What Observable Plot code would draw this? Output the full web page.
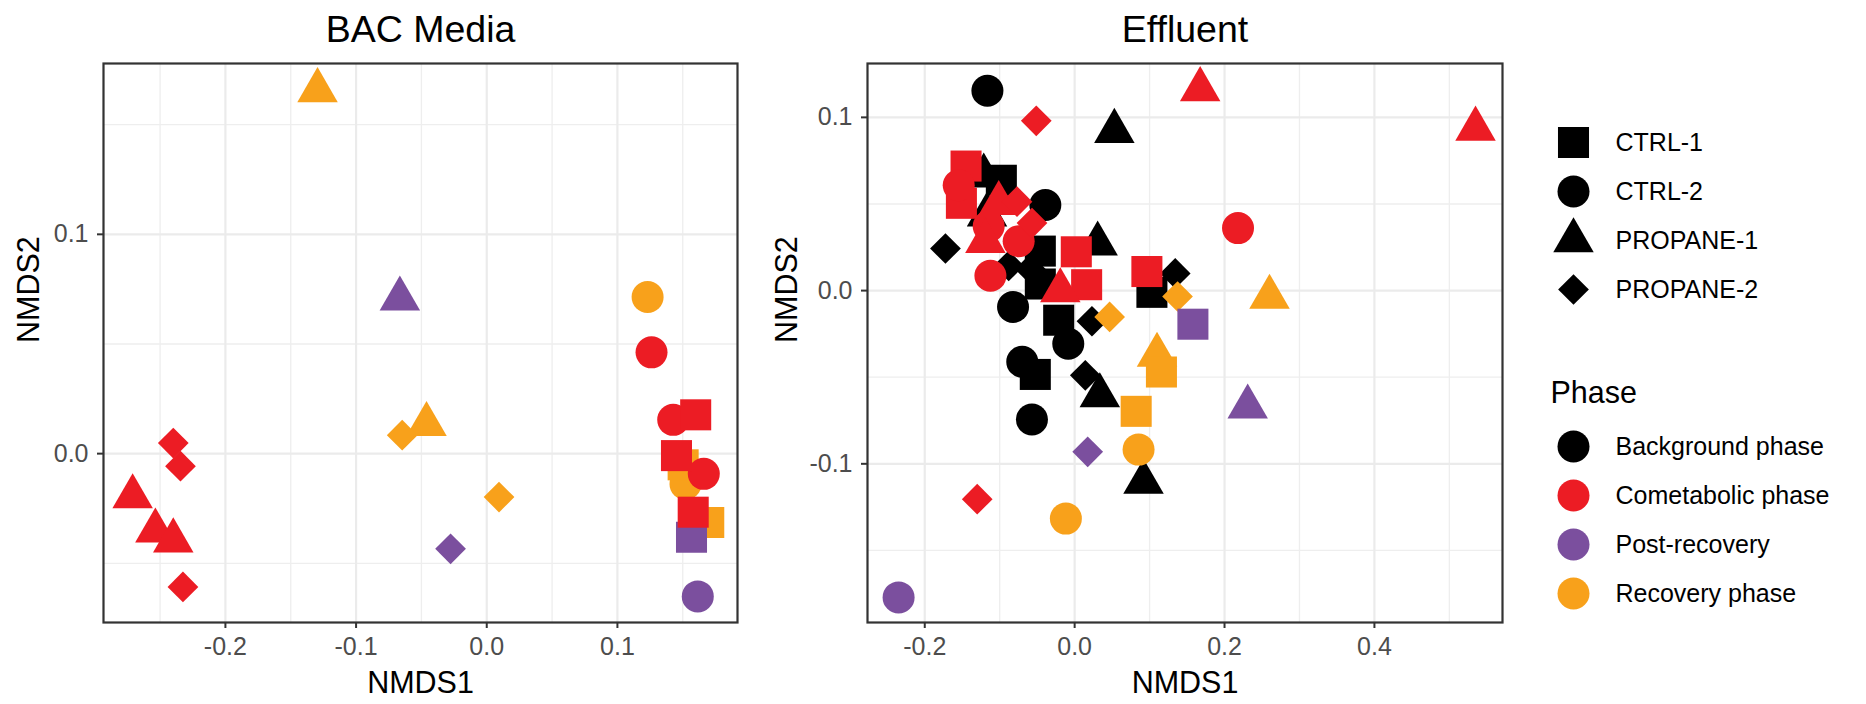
<!DOCTYPE html>
<html>
<head>
<meta charset="utf-8">
<script src="https://cdn.jsdelivr.net/npm/d3@7"></script>
<script src="https://cdn.jsdelivr.net/npm/@observablehq/plot@0.6"></script>
<style>
  html, body { margin: 0; padding: 0; background: #ffffff; }
  #wrap { position: relative; width: 1866px; height: 704px; overflow: hidden; font-family: "Liberation Sans", Arial, sans-serif; }
  .abs { position: absolute; }
</style>
</head>
<body>
<div id="wrap">
  <div id="p1" class="abs" style="left:0px;top:0px"></div>
  <div id="p2" class="abs" style="left:760px;top:0px"></div>
  <div id="lg1" class="abs" style="left:1540px;top:116px"></div>
  <div id="lg2" class="abs" style="left:1540px;top:360px"></div>
</div>
<script>
// ---------- categories ----------
const reactors = ["CTRL-1", "CTRL-2", "PROPANE-1", "PROPANE-2"];
const phases = ["Background phase", "Cometabolic phase", "Post-recovery", "Recovery phase"];
const phaseColors = ["#000000", "#ec1c24", "#7b4f9e", "#f8a11b"];
const panelTitles = ["BAC Media", "Effluent"];

// ---------- BAC Media ----------
const bacNMDS1 = [-0.1295, -0.0461, -0.0647, 0.0094, 0.1231, 0.1521, 0.1503, 0.1699,
                  -0.0665, -0.0277, 0.1567, 0.1615,
                  0.1261, 0.1427, 0.1661, 0.1599, 0.1452, 0.1580, -0.2710, -0.2536, -0.2399, -0.2399, -0.2344, -0.2325];
const bacNMDS2 = [0.1656, 0.0134, 0.0084, -0.0198, 0.0714, -0.0138, -0.0051, -0.0314,
                  0.0706, -0.0434, -0.0381, -0.0651,
                  0.0462, 0.0154, -0.0092, 0.0177, -0.0009, -0.0267, -0.0196, -0.0352, -0.0397, 0.0048, -0.0057, -0.0608];
const bacReactor = ["PROPANE-1", "PROPANE-1", "PROPANE-2", "PROPANE-2", "CTRL-2", "CTRL-2", "CTRL-1", "CTRL-1",
                    "PROPANE-1", "PROPANE-2", "CTRL-1", "CTRL-2",
                    "CTRL-2", "CTRL-2", "CTRL-2", "CTRL-1", "CTRL-1", "CTRL-1", "PROPANE-1", "PROPANE-1", "PROPANE-1", "PROPANE-2", "PROPANE-2", "PROPANE-2"];
const bacPhase = ["Recovery phase", "Recovery phase", "Recovery phase", "Recovery phase", "Recovery phase", "Recovery phase", "Recovery phase", "Recovery phase",
                  "Post-recovery", "Post-recovery", "Post-recovery", "Post-recovery",
                  "Cometabolic phase", "Cometabolic phase", "Cometabolic phase", "Cometabolic phase", "Cometabolic phase", "Cometabolic phase",
                  "Cometabolic phase", "Cometabolic phase", "Cometabolic phase", "Cometabolic phase", "Cometabolic phase", "Cometabolic phase"];

// ---------- Effluent ----------
const effNMDS1 = [
  -0.1164, -0.0391, -0.0822, -0.0085, -0.0699, -0.0570,
  -0.0978, -0.0458, -0.0458, 0.1031, -0.0213, -0.0525,
  0.0530, -0.1213, -0.1169, 0.0307, 0.0336, 0.0919,
  -0.1724, -0.0880, -0.0591, 0.1342, 0.0231, 0.0142,
  0.2600, 0.1099, 0.1158, 0.0821, 0.0853, -0.0117, 0.1373, 0.0467,
  0.1578, 0.2309, 0.0174, -0.2349,
  -0.1449, -0.1511, 0.0022, 0.0160, 0.0964,
  -0.1547, -0.1147, -0.0747, -0.1124, 0.2180,
  0.1675, 0.5349, -0.1013, -0.1191, -0.0191,
  -0.0512, -0.0769, -0.0569, -0.1300];
const effNMDS2 = [
  0.1154, 0.0494, -0.0095, -0.0307, -0.0411, -0.0744,
  0.0637, 0.0228, 0.0038, -0.0010, -0.0171, -0.0484,
  0.0920, 0.0663, 0.0437, 0.0270, -0.0606, -0.1105,
  0.0243, 0.0143, 0.0124, 0.0099, -0.0177, -0.0489,
  -0.0037, -0.0372, -0.0470, -0.0697, -0.0918, -0.1316, -0.0034, -0.0152,
  -0.0194, -0.0671, -0.0931, -0.1771,
  0.0719, 0.0504, 0.0224, 0.0034, 0.0110,
  0.0608, 0.0371, 0.0285, 0.0086, 0.0361,
  0.1161, 0.0933, 0.0504, 0.0285, 0.0000,
  0.0980, 0.0513, 0.0390, -0.1204];
const effReactor = [
  "CTRL-2", "CTRL-2", "CTRL-2", "CTRL-2", "CTRL-2", "CTRL-2",
  "CTRL-1", "CTRL-1", "CTRL-1", "CTRL-1", "CTRL-1", "CTRL-1",
  "PROPANE-1", "PROPANE-1", "PROPANE-1", "PROPANE-1", "PROPANE-1", "PROPANE-1",
  "PROPANE-2", "PROPANE-2", "PROPANE-2", "PROPANE-2", "PROPANE-2", "PROPANE-2",
  "PROPANE-1", "PROPANE-1", "CTRL-1", "CTRL-1", "CTRL-2", "CTRL-2", "PROPANE-2", "PROPANE-2",
  "CTRL-1", "PROPANE-1", "PROPANE-2", "CTRL-2",
  "CTRL-1", "CTRL-1", "CTRL-1", "CTRL-1", "CTRL-1",
  "CTRL-2", "CTRL-2", "CTRL-2", "CTRL-2", "CTRL-2",
  "PROPANE-1", "PROPANE-1", "PROPANE-1", "PROPANE-1", "PROPANE-1",
  "PROPANE-2", "PROPANE-2", "PROPANE-2", "PROPANE-2"];
const effPhase = [
  ...Array(24).fill("Background phase"),
  ...Array(8).fill("Recovery phase"),
  ...Array(4).fill("Post-recovery"),
  ...Array(19).fill("Cometabolic phase")];

// ---------- axis ticks ----------
const bacXMajor = [-0.2, -0.1, 0.0, 0.1];
const bacXMinor = [-0.25, -0.15, -0.05, 0.05, 0.15];
const bacYMajor = [0.0, 0.1];
const bacYMinor = [-0.05, 0.05, 0.15];
const effXMajor = [-0.2, 0.0, 0.2, 0.4];
const effXMinor = [-0.1, 0.1, 0.3, 0.5];
const effYMajor = [-0.1, 0.0, 0.1];
const effYMinor = [-0.15, -0.05, 0.05];

// ---------- ggplot-like symbols ----------
const rOf = (size) => Math.sqrt(size / Math.PI);
const symSquare = {draw(ctx, size) { const r = rOf(size) * 0.97; ctx.moveTo(-r, -r); ctx.lineTo(r, -r); ctx.lineTo(r, r); ctx.lineTo(-r, r); ctx.closePath(); }};
const symCircle = {draw(ctx, size) { const r = rOf(size); ctx.moveTo(r, 0); ctx.arc(0, 0, r, 0, 2 * Math.PI); ctx.closePath(); }};
const symTriangle = {draw(ctx, size) { const r = rOf(size); const hw = r * 1.265, top = r * 1.46, bot = r * 0.73; ctx.moveTo(0, -top); ctx.lineTo(hw, bot); ctx.lineTo(-hw, bot); ctx.closePath(); }};
const symDiamond = {draw(ctx, size) { const r = rOf(size) * 0.96; ctx.moveTo(0, -r); ctx.lineTo(r, 0); ctx.lineTo(0, r); ctx.lineTo(-r, 0); ctx.closePath(); }};
const reactorSymbols = [symSquare, symCircle, symTriangle, symDiamond];

const FONT = "'Liberation Sans', Arial, sans-serif";
const fmt = (d) => d.toFixed(1);

function table(nx, ny, reactor, phase) {
  return nx.map((x, i) => ({NMDS1: x, NMDS2: ny[i], Reactor: reactor[i], Phase: phase[i]}));
}

function panel(opts) {
  const {data, title, xDomain, yDomain, xMajor, xMinor, yMajor, yMinor, marginLeft, marginRight, ylabDx} = opts;
  return Plot.plot({
    width: 760, height: 704,
    marginLeft, marginRight, marginTop: 63, marginBottom: 82,
    style: {fontFamily: FONT, background: "transparent", overflow: "visible", color: "#333333"},
    x: {domain: xDomain, axis: null},
    y: {domain: yDomain, axis: null},
    color: {domain: phases, range: phaseColors},
    symbol: {domain: reactors, range: reactorSymbols},
    marks: [
      Plot.ruleX(xMinor, {stroke: "#eeeeee", strokeWidth: 1.3}),
      Plot.ruleY(yMinor, {stroke: "#eeeeee", strokeWidth: 1.3}),
      Plot.ruleX(xMajor, {stroke: "#ebebeb", strokeWidth: 2.2}),
      Plot.ruleY(yMajor, {stroke: "#ebebeb", strokeWidth: 2.2}),
      Plot.dot(data, {x: "NMDS1", y: "NMDS2", fill: "Phase", symbol: "Reactor", r: 16}),
      Plot.frame({stroke: "#333333", strokeWidth: 2.2}),
      Plot.axisX(xMajor, {tickSize: 6, tickPadding: 9, fontSize: 25, tickFormat: fmt, label: null, stroke: "#333333", fill: "#4d4d4d", strokeWidth: 2}),
      Plot.axisY(yMajor, {tickSize: 6, tickPadding: 9, fontSize: 25, tickFormat: fmt, label: null, stroke: "#333333", fill: "#4d4d4d", strokeWidth: 2}),
      Plot.text([title], {frameAnchor: "top", dy: -34, fontSize: 37.5, fill: "#000000", lineAnchor: "middle"}),
      Plot.text(["NMDS1"], {frameAnchor: "bottom", dy: 61, fontSize: 30.5, fill: "#000000", lineAnchor: "middle"}),
      Plot.text(["NMDS2"], {frameAnchor: "left", dx: ylabDx, rotate: -90, fontSize: 30.5, fill: "#000000", lineAnchor: "middle"})
    ]
  });
}

document.getElementById("p1").append(panel({
  data: table(bacNMDS1, bacNMDS2, bacReactor, bacPhase),
  title: panelTitles[0],
  xDomain: [-0.2933, 0.1919], yDomain: [-0.0770, 0.1779],
  xMajor: bacXMajor, xMinor: bacXMinor, yMajor: bacYMajor, yMinor: bacYMinor,
  marginLeft: 103, marginRight: 23, ylabDx: -74
}));

document.getElementById("p2").append(panel({
  data: table(effNMDS1, effNMDS2, effReactor, effPhase),
  title: panelTitles[1],
  xDomain: [-0.2764, 0.5709], yDomain: [-0.1916, 0.1311],
  xMajor: effXMajor, xMinor: effXMinor, yMajor: effYMajor, yMinor: effYMinor,
  marginLeft: 107, marginRight: 18, ylabDx: -80
}));

// ---------- legends ----------
document.getElementById("lg1").append(Plot.plot({
  width: 326, height: 200, marginTop: 25, marginBottom: 26.5, marginLeft: 0, marginRight: 0,
  style: {fontFamily: FONT, background: "transparent", overflow: "visible"},
  y: {type: "point", domain: reactors, axis: null, padding: 0},
  symbol: {domain: reactors, range: reactorSymbols},
  marks: [
    Plot.dot(reactors, {y: (d) => d, symbol: (d) => d, fill: "#000000", r: 16, frameAnchor: "left", dx: 33}),
    Plot.text(reactors, {y: (d) => d, text: (d) => d, frameAnchor: "left", dx: 75, textAnchor: "start", fontSize: 25, fill: "#000000", lineAnchor: "middle"})
  ]
}));

document.getElementById("lg2").append(Plot.plot({
  width: 326, height: 260, marginTop: 85, marginBottom: 26, marginLeft: 0, marginRight: 0,
  style: {fontFamily: FONT, background: "transparent", overflow: "visible"},
  y: {type: "point", domain: phases, axis: null, padding: 0},
  color: {domain: phases, range: phaseColors},
  marks: [
    Plot.dot(phases, {y: (d) => d, fill: (d) => d, r: 16, frameAnchor: "left", dx: 33}),
    Plot.text(phases, {y: (d) => d, text: (d) => d, frameAnchor: "left", dx: 75, textAnchor: "start", fontSize: 25, fill: "#000000", lineAnchor: "middle"}),
    Plot.text(["Phase"], {frameAnchor: "top-left", dx: 10, dy: -52.5, textAnchor: "start", fontSize: 30.5, fill: "#000000", lineAnchor: "middle"})
  ]
}));
</script>
</body>
</html>
